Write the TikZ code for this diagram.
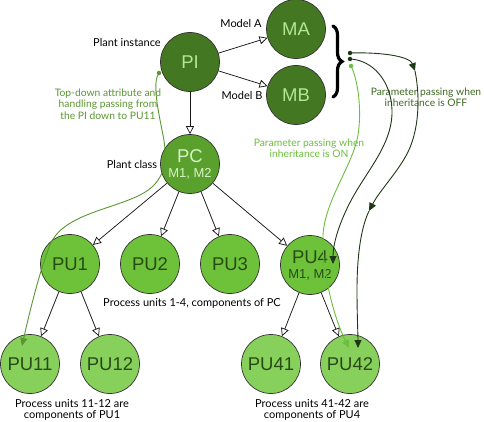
\documentclass[tikz,border=0pt]{standalone}
\usepackage{fontspec}
\setmainfont{Lato}
\newfontfamily\nodefont{Liberation Sans}
\usetikzlibrary{arrows.meta,decorations.pathreplacing,calc}
\definecolor{fillA}{RGB}{68,119,34}
\definecolor{fillB}{RGB}{90,160,45}
\definecolor{fillC}{RGB}{110,194,58}
\definecolor{fillD}{RGB}{136,208,92}
\definecolor{txtA}{RGB}{180,230,150}
\definecolor{txtB}{RGB}{215,242,198}
\definecolor{txtC}{RGB}{40,75,22}
\definecolor{bordc}{RGB}{51,51,51}
\definecolor{curveM}{RGB}{90,150,50}
\definecolor{curveL}{RGB}{108,190,60}
\definecolor{curveD}{RGB}{30,55,20}
\definecolor{lblOff}{RGB}{60,105,35}
\begin{document}
\begin{tikzpicture}[x=1pt,y=-1pt,
  unit/.style={circle, draw=bordc, line width=0.7pt, minimum size=59pt, inner sep=0pt,
    font=\nodefont\fontsize{18.5}{15}\selectfont, align=center},
  lvlA/.style={unit, fill=fillA, text=txtA},
  lvlB/.style={unit, fill=fillB, text=txtB},
  lvlC/.style={unit, fill=fillC, text=txtC},
  lvlD/.style={unit, fill=fillD, text=txtC},
  tree/.style={draw=black!90, line width=0.75pt, -{Triangle[open,fill=white,length=8pt,width=8pt]}},
  lbl/.style={font=\fontsize{11}{11.5}\selectfont, align=center, inner sep=0pt},
  plbl/.style={font=\fontsize{10.3}{11.5}\selectfont, align=center, inner sep=0pt},
  dotn/.style={circle, inner sep=0pt, minimum size=4.5pt},
  flow/.style={line width=0.9pt, -{Triangle[length=8pt,width=7pt]}}
]
\useasboundingbox (0,0) rectangle (484,422);

% nodes
\node[lvlA] (PI) at (190,62) {PI};
\node[lvlA] (MA) at (296,29) {MA};
\node[lvlA] (MB) at (296,95) {MB};
\node[lvlB] (PC) at (190,164) {PC\\{\fontsize{13}{15}\selectfont M1, M2}};
\node[lvlC] (PU1) at (70,264) {PU1};
\node[lvlC] (PU2) at (150,264) {PU2};
\node[lvlC] (PU3) at (230,264) {PU3};
\node[lvlC] (PU4) at (310,265) {PU4\\{\fontsize{13}{15}\selectfont M1, M2}};
\node[lvlD] (PU11) at (30,364) {PU11};
\node[lvlD] (PU12) at (110,364) {PU12};
\node[lvlD] (PU41) at (271,364) {PU41};
\node[lvlD] (PU42) at (350,364) {PU42};

% tree edges
\draw[tree] (PI) -- (MA);
\draw[tree] (PI) -- (MB);
\draw[tree] (PI) -- (PC);
\draw[tree] (PC) -- (PU1);
\draw[tree] (PC) -- (PU2);
\draw[tree] (PC) -- (PU3);
\draw[tree] (PC) -- (PU4);
\draw[tree] (PU1) -- (PU11);
\draw[tree] (PU1) -- (PU12);
\draw[tree] (PU4) -- (PU41);
\draw[tree] (PU4) -- (PU42);

% labels
\node[lbl] (lMA) at (241,23) {Model A};
\node[lbl] (lMB) at (242,95) {Model B};
\node[lbl] (lPI) at (127,42) {Plant instance};
\node[lbl] (lPC) at (132,164) {Plant class};
\node[plbl, text=curveM] (lTD) at (108,104) {Top-down attribute and\\handling passing from\\the PI down to PU11};
\node[plbl, text=curveL] (lON) at (309,148) {Parameter passing when\\inheritance is ON};
\node[plbl, text=lblOff] (lOFF) at (426,97) {Parameter passing when\\inheritance is OFF};
\node[lbl] (lP14) at (192,303) {Process units 1-4, components of PC};
\node[lbl] (lP11) at (72,410) {Process units 11-12 are\\components of PU1};
\node[lbl] (lP41) at (312,410) {Process units 41-42 are\\components of PU4};

% brace
\draw[line width=3.2pt, line cap=round, decorate, decoration={brace, amplitude=9pt}] (333,26) -- (333,97);

% dots
\node[dotn, fill=curveD] (d1) at (350,53) {};
\node[dotn, fill=curveD] (d2) at (350,59) {};
\node[dotn, fill=curveL] (d3) at (351,66) {};
\node[dotn, fill=curveM] (d0) at (159,73) {};

% free end / mid points
\coordinate (m1) at (415,71);
\coordinate (m2) at (369,211);
\coordinate (e2) at ($(PU42)+(8,-16)$);
\coordinate (t1) at ($(PU4)+(23,-1)$);
\coordinate (e3) at ($(PU42)+(-1,-16)$);
\coordinate (e0) at ($(PU11)+(-8,-18)$);

% OFF curves
\draw[flow, draw=curveD] (d1.center) .. controls (385,52) and (410,57) .. (m1);
\draw[flow, draw=curveD] (m1) .. controls (419,90) and (421,125) .. (408,152) .. controls (398,172) and (380,190) .. (m2);
\draw[flow, draw=curveD] (m2) .. controls (360,230) and (357,260) .. (357,290) .. controls (357,315) and (358,335) .. (e2);
\draw[flow, draw=curveD] (d2.center) .. controls (372,60) and (391,80) .. (392,110) .. controls (393,140) and (372,165) .. (357,190) .. controls (343,213) and (333,240) .. (t1);

% ON curve
\draw[flow, draw=curveL] (d3.center) .. controls (358,80) and (362,110) .. (358,135) .. controls (353,165) and (325,200) .. (323,235) .. controls (322,275) and (335,320) .. (e3);

% top-down curve
\draw[flow, draw=curveM] (d0.center) .. controls (152,82) and (158,110) .. (163,135) .. controls (168,160) and (166,182) .. (140,195) .. controls (110,210) and (62,215) .. (50,245) .. controls (40,270) and (30,310) .. (e0);
\end{tikzpicture}
\end{document}
